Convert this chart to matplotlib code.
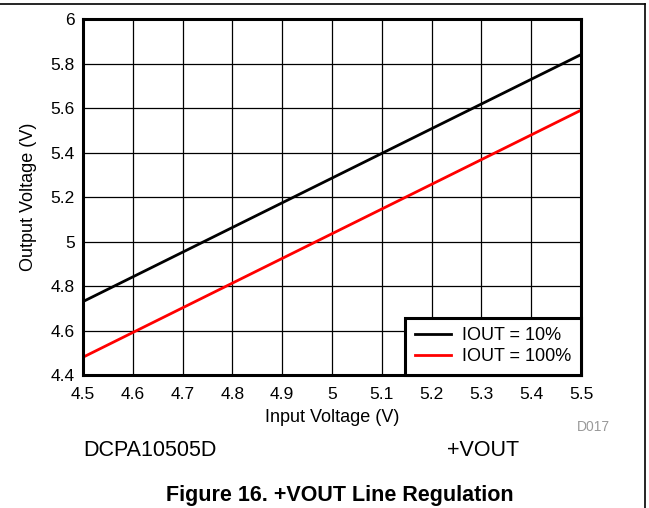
import matplotlib.pyplot as plt
from matplotlib.lines import Line2D

plt.rcParams['font.family'] = ['Liberation Sans', 'DejaVu Sans']

vin = [4.5, 5.5]
vout_10 = [4.73, 5.84]
vout_100 = [4.48, 5.59]

fig = plt.figure(figsize=(6.49, 5.08), dpi=100)
ax = fig.add_axes([0.1279, 0.2618, 0.7673, 0.7008])

ax.plot(vin, vout_10, color='black', lw=2, label='IOUT = 10%')
ax.plot(vin, vout_100, color='#ff0000', lw=2, label='IOUT = 100%')

ax.set_xlim(4.5, 5.5)
ax.set_ylim(4.4, 6.0)
ax.set_xticks([4.5 + 0.1 * i for i in range(11)])
ax.set_xticklabels(['4.5', '4.6', '4.7', '4.8', '4.9', '5', '5.1', '5.2', '5.3', '5.4', '5.5'])
ax.set_yticks([4.4 + 0.2 * i for i in range(9)])
ax.set_yticklabels(['4.4', '4.6', '4.8', '5', '5.2', '5.4', '5.6', '5.8', '6'])
ax.tick_params(axis='x', length=0, labelsize=12.5, pad=8.5)
ax.tick_params(axis='y', length=0, labelsize=12.5, pad=6)
ax.grid(True, color='black', lw=0.9)
for s in ax.spines.values():
    s.set_linewidth(2.2)

ax.set_xlabel('Input Voltage (V)', fontsize=13, labelpad=5)
ax.set_ylabel('Output Voltage (V)', fontsize=13, labelpad=10)

leg = ax.legend(loc='lower right', fontsize=13, frameon=True, fancybox=False,
                borderaxespad=0, handlelength=2.0, labelspacing=0.2,
                borderpad=0.55, handletextpad=0.6)
leg.get_frame().set_edgecolor('black')
leg.get_frame().set_linewidth(2.2)
leg.get_frame().set_alpha(1)

fig.text(610 / 649, 1 - 427 / 508, 'D017', color='#999999', fontsize=10,
         ha='right', va='center')
fig.text(83 / 649, 1 - 451 / 508, 'DCPA10505D', fontsize=15.5, ha='left', va='center')
fig.text(447 / 649, 1 - 451 / 508, '+VOUT', fontsize=15.5, ha='left', va='center')
fig.text(340 / 649, 1 - 496 / 508, 'Figure 16. +VOUT Line Regulation', fontsize=15.5,
         fontweight='bold', ha='center', va='center')

# page frame lines
fig.add_artist(Line2D([0, 645 / 649], [1 - 4 / 508, 1 - 4 / 508], color='black', lw=1.2,
                      transform=fig.transFigure))
fig.add_artist(Line2D([645 / 649, 645 / 649], [0, 1 - 4 / 508], color='black', lw=1.2,
                      transform=fig.transFigure))

fig.savefig('out.png', dpi=100)
